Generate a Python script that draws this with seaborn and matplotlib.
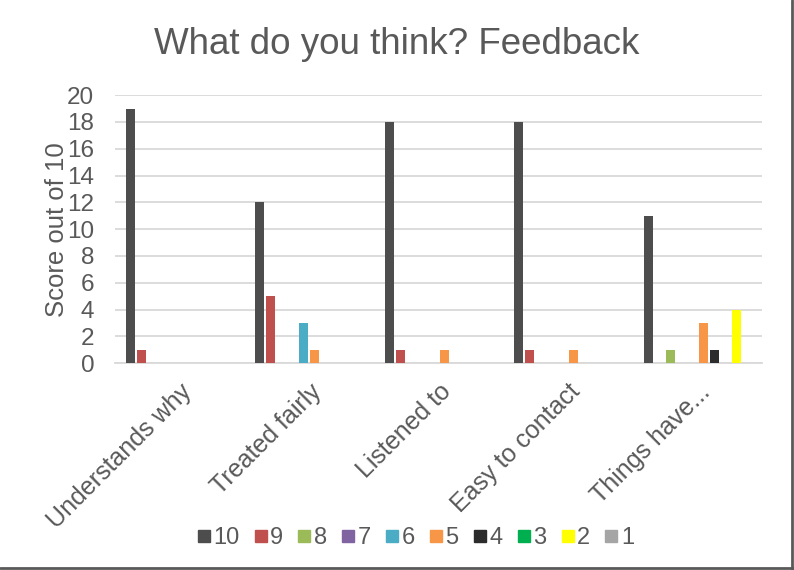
import pandas as pd
import matplotlib
matplotlib.use("Agg")
import matplotlib.pyplot as plt
import seaborn as sns
from matplotlib.lines import Line2D

CATEGORIES = ["Understands why", "Treated fairly", "Listened to",
              "Easy to contact", "Things have..."]
SCORES = ["10", "9", "8", "7", "6", "5", "4", "3", "2", "1"]
COLORS = ["#4d4d4d", "#c0504d", "#9bbb59", "#8064a2", "#4bacc6",
          "#f79646", "#2c2c2c", "#00b050", "#ffff00", "#a5a5a5"]

# counts per score, one list per category (order follows SCORES)
UNDERSTANDS = [19, 1, 0, 0, 0, 0, 0, 0, 0, 0]
TREATED = [12, 5, 0, 0, 3, 1, 0, 0, 0, 0]
LISTENED = [18, 1, 0, 0, 0, 1, 0, 0, 0, 0]
CONTACT = [18, 1, 0, 0, 0, 1, 0, 0, 0, 0]
THINGS = [11, 0, 1, 0, 0, 3, 1, 0, 4, 0]


def main():
    rows = []
    for cat, vals in zip(CATEGORIES, [UNDERSTANDS, TREATED, LISTENED, CONTACT, THINGS]):
        for score, v in zip(SCORES, vals):
            rows.append({"question": cat, "score": score, "count": v})
    df = pd.DataFrame(rows)

    sns.set_style("white")
    plt.rcParams["font.family"] = ["Liberation Sans", "DejaVu Sans"]
    grey = "#595959"

    fig = plt.figure(figsize=(7.94, 5.70), dpi=100)
    ax = fig.add_axes([0.145, 0.363, 0.815, 0.470])

    sns.barplot(data=df, x="question", y="count", hue="score", hue_order=SCORES,
                order=CATEGORIES, palette=COLORS, width=0.85, gap=0.18,
                saturation=1, linewidth=0, ax=ax, legend=False, zorder=3)

    ax.set_ylim(0, 20)
    ax.set_yticks(range(0, 21, 2))
    ax.set_xlim(-0.5, len(CATEGORIES) - 0.5)
    ax.yaxis.grid(True, color="#d9d9d9", linewidth=1.3, zorder=0)
    for side in ["top", "right", "left"]:
        ax.spines[side].set_visible(False)
    ax.spines["bottom"].set_color("#d9d9d9")
    ax.spines["bottom"].set_linewidth(1.3)
    ax.tick_params(axis="both", length=0, colors=grey, labelsize=17.5)
    ax.tick_params(axis="x", labelsize=18)
    ax.tick_params(axis="y", pad=15)
    ax.set_xlabel("")
    ax.set_ylabel("Score out of 10", color=grey, fontsize=18.5, labelpad=-1)
    for lbl in ax.get_xticklabels():
        lbl.set_rotation(45)
        lbl.set_ha("right")
        lbl.set_rotation_mode("anchor")
    ax.tick_params(axis="x", pad=12)

    fig.suptitle("What do you think? Feedback", color=grey, fontsize=26.5, y=0.952)

    handles = [Line2D([], [], marker="s", linestyle="", markersize=9,
                      markerfacecolor=c, markeredgecolor=c) for c in COLORS]
    fig.legend(handles, SCORES, loc="center", bbox_to_anchor=(0.52, 0.056),
               ncol=10, frameon=False, fontsize=17, labelcolor=grey,
               handletextpad=-0.1, columnspacing=0.4, handlelength=1.0)

    # chart border (right and bottom edges visible)
    fig.add_artist(Line2D([0.9975, 0.9975], [0, 1], transform=fig.transFigure,
                          color="#595959", linewidth=2))
    fig.add_artist(Line2D([0, 1], [0.003, 0.003], transform=fig.transFigure,
                          color="#595959", linewidth=2))

    fig.savefig("out.png", dpi=100)
    plt.close(fig)


if __name__ == "__main__":
    main()
